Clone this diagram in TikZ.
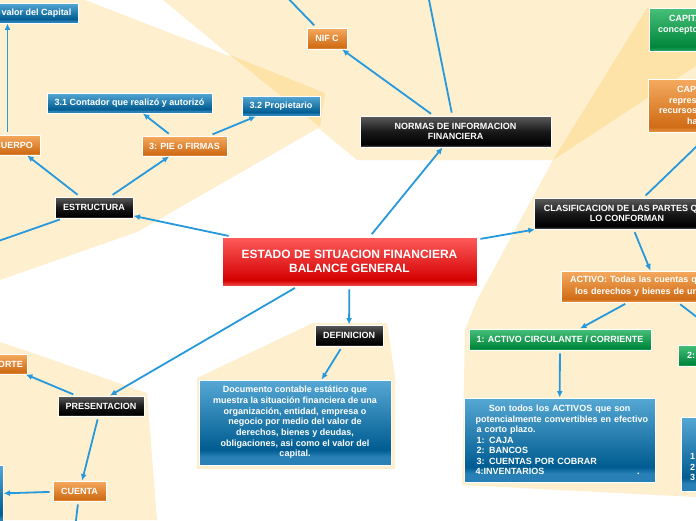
\documentclass[tikz,border=0pt]{standalone}
\usepackage{fontspec}
\setmainfont{Liberation Sans}
\usetikzlibrary{arrows.meta,shadows}
\definecolor{peach}{RGB}{254,239,207}
\definecolor{peachdk}{RGB}{253,227,168}
\definecolor{linkblue}{RGB}{38,152,220}
\definecolor{bluetop}{RGB}{86,168,212}
\definecolor{bluedark}{RGB}{0,92,145}
\definecolor{blueband}{RGB}{40,128,182}
\definecolor{blktop}{RGB}{92,92,92}
\definecolor{blkmid}{RGB}{25,25,25}
\definecolor{blkdark}{RGB}{0,0,0}
\definecolor{blkband}{RGB}{70,70,70}
\definecolor{orgtop}{RGB}{245,170,95}
\definecolor{orgdark}{RGB}{208,108,22}
\definecolor{orgband}{RGB}{226,140,62}
\definecolor{grntop}{RGB}{72,192,122}
\definecolor{grndark}{RGB}{0,134,60}
\definecolor{grnband}{RGB}{32,160,88}
\definecolor{redtop}{RGB}{255,92,92}
\definecolor{reddark}{RGB}{212,0,0}
\definecolor{redband}{RGB}{238,66,66}
\pgfdeclareverticalshading{blueshade}{100bp}{color(0bp)=(blueband); color(26bp)=(blueband); color(30bp)=(blueband); color(34bp)=(bluedark); color(75bp)=(bluetop); color(100bp)=(bluetop)}
\pgfdeclareverticalshading{blkshade}{100bp}{color(0bp)=(blkband); color(26bp)=(blkband); color(29bp)=(blkdark); color(50bp)=(blkmid); color(75bp)=(blktop); color(100bp)=(blktop)}
\pgfdeclareverticalshading{orgshade}{100bp}{color(0bp)=(orgband); color(26bp)=(orgband); color(30bp)=(orgdark); color(75bp)=(orgtop); color(100bp)=(orgtop)}
\pgfdeclareverticalshading{grnshade}{100bp}{color(0bp)=(grnband); color(26bp)=(grnband); color(30bp)=(grndark); color(75bp)=(grntop); color(100bp)=(grntop)}
\pgfdeclareverticalshading{redshade}{100bp}{color(0bp)=(redband); color(26bp)=(redband); color(31bp)=(reddark); color(75bp)=(redtop); color(100bp)=(redtop)}
\tikzset{
  nbox/.style={draw=white, line width=0.9pt, inner sep=0pt, text=white,
    font=\bfseries\fontsize{9}{10.7}\selectfont,
    drop shadow={shadow xshift=0.7pt, shadow yshift=-0.9pt, opacity=0.3}},
  bluebox/.style={nbox, shade, shading=blueshade},
  blkbox/.style={nbox, shade, shading=blkshade},
  orgbox/.style={nbox, shade, shading=orgshade},
  grnbox/.style={nbox, shade, shading=grnshade},
  redbox/.style={nbox, shade, shading=redshade},
  conn/.style={draw=linkblue, line width=1.8pt, shorten <=3pt, -{Latex[length=6.5pt,width=6pt]}},
}
\begin{document}
\begin{tikzpicture}[x=1pt,y=-1pt]
\useasboundingbox (0,0) rectangle (696,520);
\clip (0,0) rectangle (696,520);
\fill[white] (0,0) rectangle (696,520);
% background regions
\fill[peach] (0,0) -- (85,0) -- (325,93) -- (320,127) -- (137,232) -- (0,280) -- cycle;
\fill[peach] (163,0) -- (357,160) -- (553,160) -- (696,66) -- (696,0) -- cycle;
\fill[peach] (647,8) -- (696,8) -- (696,497) -- (462,485) -- (465,330) -- (477,300) -- (553,160) -- cycle;
\fill[peachdk] (230,55) -- (325,93) -- (320,127) -- cycle;
\fill[peachdk] (553,160) -- (647,8) -- (696,8) -- (696,66) -- cycle;
\fill[peach] (0,342) -- (33,353) -- (147,393) -- (157,520) -- (0,520) -- cycle;
\fill[peach] (313,323) -- (387,323) -- (395,377) -- (395,469) -- (197,469) -- (197,378) -- cycle;

% nodes
\node[bluebox, minimum width=83pt, minimum height=20pt] (valcap) at (36.5,13) {valor del Capital};
\node[orgbox, minimum width=52.5pt, minimum height=20pt] (cuerpo) at (13.75,145) {CUERPO};
\node[bluebox, minimum width=165pt, minimum height=20pt] (p31) at (129.5,103) {3.1 Contador que realizó y autorizó};
\node[orgbox, minimum width=85pt, minimum height=20pt] (pie) at (184.5,146) {3: PIE o FIRMAS};
\node[bluebox, minimum width=78pt, minimum height=20pt] (p32) at (281,106) {3.2 Propietario};
\node[orgbox, minimum width=40pt, minimum height=21pt] (nifc) at (327,38.5) {NIF C};
\node[blkbox, minimum width=191pt, minimum height=31pt, align=center, font=\bfseries\fontsize{9}{10}\selectfont] (normas) at (455.5,131.5) {NORMAS DE INFORMACION\\FINANCIERA};
\node[blkbox, minimum width=78pt, minimum height=21pt] (estructura) at (94,207.5) {ESTRUCTURA};
\node[redbox, minimum width=255pt, minimum height=49pt, align=center, font=\bfseries\fontsize{12}{13.5}\selectfont] (estado) at (349.5,261.5) {ESTADO DE SITUACION FINANCIERA\\BALANCE GENERAL};
\node[blkbox, minimum width=68pt, minimum height=21pt] (definicion) at (349,335.5) {DEFINICION};
\node[bluebox, minimum width=192pt, minimum height=85pt, align=center] (defbox) at (295,422.5) {Documento contable estático que\\muestra la situación financiera de una\\organización, entidad, empresa o\\negocio por medio del valor de\\derechos, bienes y deudas,\\obligaciones, asi como el valor del\\capital.};
\node[blkbox, minimum width=186pt, minimum height=31pt, align=center, font=\bfseries\fontsize{9}{10}\selectfont] (clasif) at (627,213.5) {CLASIFICACION DE LAS PARTES QUE\\LO CONFORMAN};
\node[orgbox, minimum height=31pt, text width=174pt, inner xsep=9pt, align=left, font=\bfseries\fontsize{9}{11.7}\selectfont] (activo) at (657,286.5) {ACTIVO: Todas las cuentas que\\\hspace*{5pt}los derechos y bienes de una};
\node[grnbox, minimum width=182pt, minimum height=21pt] (act1) at (560,339.5) {1: ACTIVO CIRCULANTE / CORRIENTE};
\node[grnbox, minimum height=21pt, text width=120pt, inner xsep=9pt, align=left] (act2) at (747,355.5) {2:};
\node[bluebox, minimum height=84pt, text width=176pt, inner xsep=7.5pt, align=left, font=\bfseries\fontsize{9}{10.5}\selectfont] (actbox) at (559.5,440) {\makebox[176pt][c]{Son todos los ACTIVOS que son}\\\hspace*{4pt}\mbox{potencialmente convertibles en efectivo}\\\hspace*{5pt}a corto plazo.\\\hspace*{5pt}1: CAJA\\\hspace*{5pt}2: BANCOS\\\hspace*{5pt}3: CUENTAS POR COBRAR\\\hspace*{4pt}4:INVENTARIOS\hskip 0pt plus 1filll.\hspace*{8pt}};
\node[grnbox, minimum height=43pt, text width=162pt, inner xsep=9pt, align=left, font=\bfseries\fontsize{9}{11}\selectfont] (capgrn) at (739,29.5) {\hspace*{11pt}CAPITAL\\concepto\\\mbox{}};
\node[orgbox, minimum height=53pt, text width=160pt, inner xsep=11pt, align=left] (capor) at (739,105.5) {\hspace*{18pt}CAP\\\hspace*{10pt}repres\\recursos\\\hspace*{28pt}ha};
\node[orgbox, minimum width=52pt, minimum height=20pt, text width=44pt, align=right] (orte) at (1,364) {ORTE};
\node[blkbox, minimum width=86pt, minimum height=20pt] (presentacion) at (101,406) {PRESENTACION};
\node[orgbox, minimum width=53pt, minimum height=20pt] (cuenta) at (79.5,491) {CUENTA};
\node[bluebox, minimum width=106pt, minimum height=60pt] (leftblue) at (-50,495) {};
\node[bluebox, minimum height=74pt, text width=132pt, inner xsep=9pt, align=left] (rightblue) at (756,454) {\mbox{}\\\mbox{}\\\mbox{}\\1\\2\\3};

% free ends of connectors leaving the picture
\coordinate (offL) at (-40,254.5);
\coordinate (offN) at (425,-20);
\coordinate (offNif) at (280,-10);
\coordinate (offC) at (73,545);

% connectors
\draw[conn] (estado) -- (estructura);
\draw[conn] (estructura) -- (cuerpo);
\draw[conn] (estructura) -- (pie);
\draw[conn] (estructura) -- (offL);
\draw[conn] ([xshift=-6.25pt]cuerpo.north) -- ([xshift=-6.25pt]cuerpo.north |- valcap.south);
\draw[conn] (pie) -- (p31);
\draw[conn] (pie) -- (p32);
\draw[conn] (estado) -- (normas);
\draw[conn] (normas) -- (nifc);
\draw[conn] (normas) -- (offN);
\draw[conn] (nifc) -- (offNif);
\draw[conn] (estado) -- (clasif);
\draw[conn] (clasif) -- (activo);
\draw[conn] (clasif) -- (capor);
\draw[conn] (activo) -- (act1);
\draw[conn] (activo) -- (act2);
\draw[conn] (act1) -- (actbox);
\draw[conn] (estado) -- (definicion);
\draw[conn] (definicion) -- (defbox);
\draw[conn] ([xshift=-52pt]estado.south) -- ([xshift=9pt]presentacion.north);
\draw[conn] (presentacion) -- (orte);
\draw[conn] (presentacion) -- (cuenta);
\draw[conn] (cuenta) -- (leftblue);
\draw[conn] (cuenta) -- (offC);
\end{tikzpicture}
\end{document}
